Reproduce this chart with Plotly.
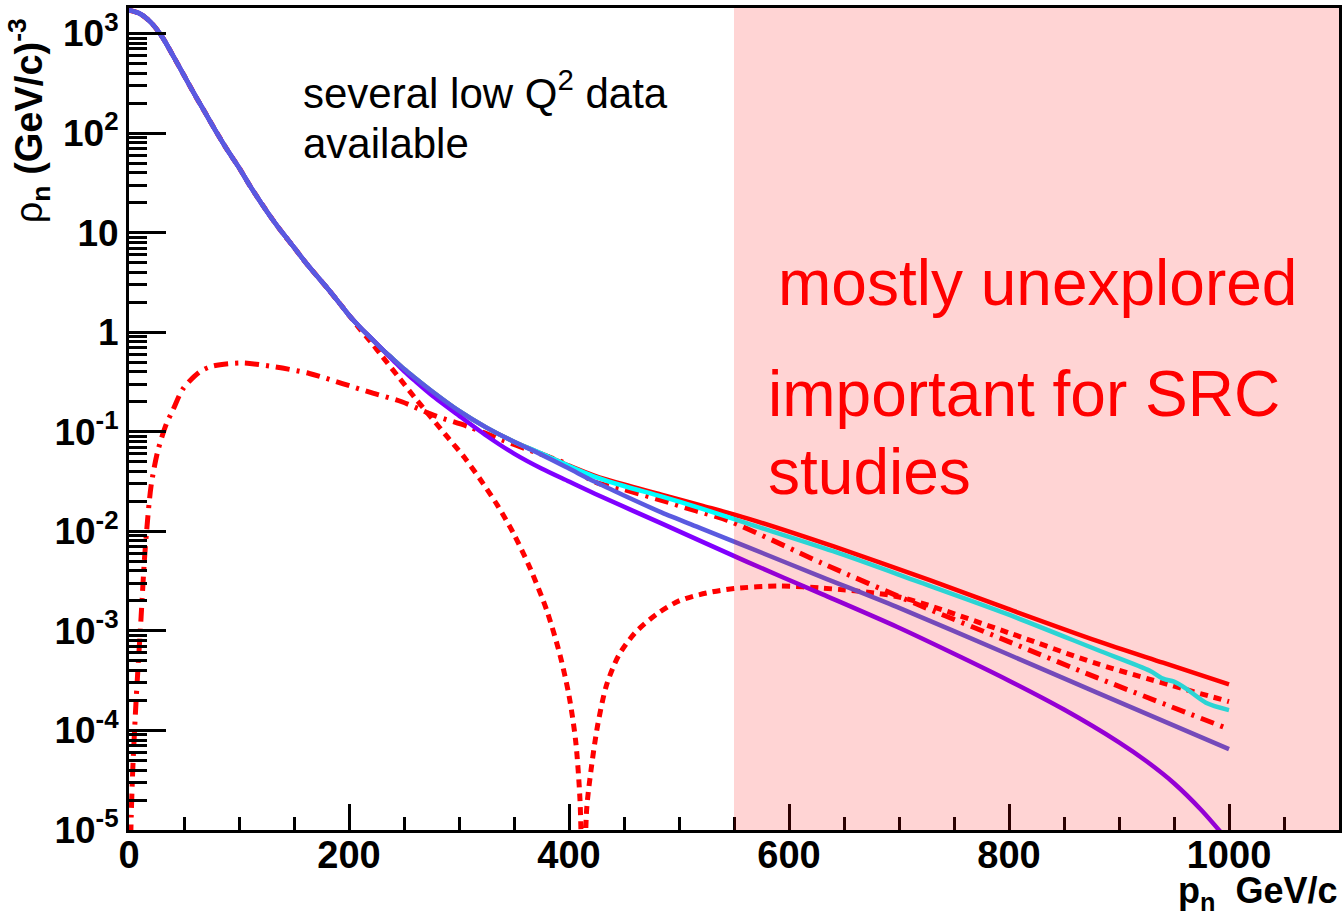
import plotly.graph_objects as go

# Neutron momentum distribution rho_n(p_n) for several NN-potential models.
# Low-momentum part shared by all models.
p_low = [0, 10, 20, 30, 40, 50, 60, 70, 80, 90, 100, 110, 120, 130, 140, 150, 160, 170,
         180, 190, 200, 210, 220, 230, 240, 250]
rho_low = [1710, 1580, 1290, 930, 600, 380, 240, 155, 100, 66, 45, 29.5, 20, 13.8, 9.8,
           7.1, 5.1, 3.76, 2.79, 2.04, 1.48, 1.12, 0.87, 0.676, 0.537, 0.427]

# Region where total, cyan and blue models still coincide
p_mid = [260, 275, 300, 325, 350]
rho_mid = [0.347, 0.257, 0.162, 0.11, 0.0794]

# Total distribution (red solid)
p_total = [375, 400, 423, 450, 484, 520, 562, 640, 728, 798, 880, 940, 1000]
rho_total = [0.0603, 0.0457, 0.0363, 0.0295, 0.0234, 0.0182, 0.0135, 7.08e-3, 3.24e-3,
             1.68e-3, 7.94e-4, 4.79e-4, 2.9e-4]

# Cyan model
p_cyan = [375, 400, 423, 450, 484, 520, 562, 640, 716, 798, 880, 928, 940, 950, 961,
          979, 1000]
rho_cyan = [0.0603, 0.0452, 0.0355, 0.0285, 0.0224, 0.017, 0.012, 6.31e-3, 3.16e-3,
            1.48e-3, 6.46e-4, 3.98e-4, 3.31e-4, 3.09e-4, 2.63e-4, 1.9e-4, 1.6e-4]

# Blue model
p_blue = [375, 400, 423, 450, 484, 520, 562, 630, 698, 798, 880, 1000]
rho_blue = [0.0589, 0.0427, 0.0316, 0.0229, 0.0155, 0.0107, 6.97e-3, 3.47e-3, 1.74e-3,
            5.89e-4, 2.4e-4, 6.5e-5]

# Violet model (leaves the common curve near 240)
p_violet = [240, 250, 260, 275, 300, 325, 350, 375, 400, 423, 484, 562, 630, 698, 750,
            800, 850, 900, 925, 950, 975, 1000]
rho_violet = [0.525, 0.407, 0.324, 0.234, 0.145, 0.0912, 0.0603, 0.0427, 0.0316, 0.024,
              0.012, 4.93e-3, 2.34e-3, 1.1e-3, 5.89e-4, 3.16e-4, 1.62e-4, 7.59e-5,
              4.9e-5, 2.95e-5, 1.58e-5, 7.6e-6]

# S-wave component (red dotted), with its node near 413
p_swave = [200, 210, 220, 230, 245, 260, 275, 290, 305, 320, 335, 350, 365, 380, 392,
           400, 406, 410, 413, 416, 420, 426, 434, 445, 460, 480, 500, 525, 550, 590,
           630, 700, 800, 880, 1000]
rho_swave = [1.48, 1.07, 0.794, 0.575, 0.355, 0.219, 0.138, 0.0871, 0.055, 0.0324,
             0.0182, 9.33e-3, 4.17e-3, 1.58e-3, 5.62e-4, 2.24e-4, 7.94e-5, 2.0e-5, 1e-6,
             1.58e-5, 3.98e-5, 1.12e-4, 2.82e-4, 5.62e-4, 9.55e-4, 1.48e-3, 2.0e-3,
             2.4e-3, 2.66e-3, 2.82e-3, 2.69e-3, 2.19e-3, 9.55e-4, 4.68e-4, 1.95e-4]

# D-wave component (red dash-dot)
p_dwave = [1, 2, 3.5, 6.5, 11, 14, 16, 20, 26, 34, 40, 49, 64, 76, 103, 133, 164, 194,
           218, 248, 278, 309, 339, 365, 393, 423, 450, 484, 514, 544, 630, 716, 798, 880,
           1000]
rho_dwave = [4e-6, 1.35e-5, 4.27e-5, 2.04e-4, 1.38e-3, 5.13e-3, 0.01, 0.0282, 0.063, 0.12,
             0.166, 0.269, 0.398, 0.457, 0.49, 0.447, 0.385, 0.305, 0.251, 0.2, 0.145,
             0.112, 0.083, 0.0646, 0.0501, 0.0315, 0.0262, 0.0205, 0.0162, 0.0129,
             4.79e-3, 1.86e-3, 7.94e-4, 3.39e-4, 1.03e-4]

# Axis ticks
x_ticks = [0, 200, 400, 600, 800, 1000]
y_ticks = [1e-5, 1e-4, 1e-3, 1e-2, 1e-1, 1, 10, 1e2, 1e3]
y_ticktext = ["10<sup>-5</sup>", "10<sup>-4</sup>", "10<sup>-3</sup>", "10<sup>-2</sup>",
              "10<sup>-1</sup>", "1", "10", "10<sup>2</sup>", "10<sup>3</sup>"]

# Momentum range still mostly unexplored
unexplored_from = 550
x_max = 1100

FONT = "Liberation Sans, Arial, sans-serif"

fig = go.Figure()


def add_curve(px, py, color, width, dash="solid"):
    fig.add_trace(go.Scatter(
        x=px, y=py, mode="lines",
        line=dict(color=color, width=width, dash=dash, shape="spline", smoothing=0.8),
        hoverinfo="skip", showlegend=False,
    ))


n_violet = p_low.index(230) + 1
n_swave = p_low.index(190) + 1

add_curve(p_low + p_mid + p_total, rho_low + rho_mid + rho_total, "#ff0000", 4.5)
add_curve(p_low[:n_swave] + p_swave, rho_low[:n_swave] + rho_swave, "#ff0000", 5, "8px,6px")
add_curve(p_dwave, rho_dwave, "#ff0000", 5, "14px,7px,3px,7px")
add_curve(p_low + p_mid + p_cyan, rho_low + rho_mid + rho_cyan, "#00ffff", 4.5)
add_curve(p_low[:n_violet] + p_violet, rho_low[:n_violet] + rho_violet, "#8000ff", 4.5)
add_curve(p_low + p_mid + p_blue, rho_low + rho_mid + rho_blue, "#5a5ae0", 4.5)

fig.add_shape(type="rect", xref="x", yref="paper", x0=unexplored_from, x1=x_max,
              y0=0, y1=1, fillcolor="rgba(255,0,0,0.17)", line_width=0, layer="above")

fig.update_xaxes(
    range=[0, x_max], tickmode="array", tickvals=x_ticks,
    ticks="inside", ticklen=26, tickwidth=3, tickcolor="black",
    minor=dict(dtick=50, ticks="inside", ticklen=13, tickwidth=3, tickcolor="black"),
    showline=True, linecolor="black", linewidth=3, mirror=True,
    showgrid=False, zeroline=False, ticklabelstandoff=-11,
    tickfont=dict(family=FONT, size=38, color="black", weight="bold"),
)
fig.update_yaxes(
    type="log", range=[-5, 3.256], tickmode="array", tickvals=y_ticks, ticktext=y_ticktext,
    ticks="inside", ticklen=37, tickwidth=3, tickcolor="black",
    minor=dict(dtick="D1", ticks="inside", ticklen=18, tickwidth=3, tickcolor="black"),
    showline=True, linecolor="black", linewidth=3, mirror=True,
    showgrid=False, zeroline=False, ticklabelstandoff=0,
    tickfont=dict(family=FONT, size=37, color="black", weight="bold"),
)

fig.add_annotation(
    text="ρ<sub><b>n</b></sub><b> (GeV/c)<sup>-3</sup></b>", textangle=-90,
    xref="paper", yref="paper", x=-0.083, y=0.99, xanchor="center", yanchor="top",
    showarrow=False, font=dict(family=FONT, size=38, color="black"),
)
fig.add_annotation(
    text="<b>p<sub>n</sub>  GeV/c</b>",
    xref="paper", yref="paper", x=1.0, y=-0.046, xanchor="right", yanchor="top",
    showarrow=False, font=dict(family=FONT, size=36, color="black"),
)

fig.add_annotation(
    text="several low Q<sup>2</sup> data", xref="x", yref="paper", x=156, y=0.9,
    xanchor="left", yanchor="middle", showarrow=False,
    font=dict(family=FONT, size=42, color="black"),
)
fig.add_annotation(
    text="available", xref="x", yref="paper", x=156, y=0.835,
    xanchor="left", yanchor="middle", showarrow=False,
    font=dict(family=FONT, size=42, color="black"),
)
for txt, yy, xx in [("mostly unexplored", 0.665, 588), ("important for SRC", 0.531, 579),
                    ("studies", 0.436, 579)]:
    fig.add_annotation(
        text=txt, xref="x", yref="paper", x=xx, y=yy, xanchor="left", yanchor="middle",
        showarrow=False, font=dict(family=FONT, size=64, color="#ff0000"),
    )

fig.update_layout(
    width=1344, height=921,
    margin=dict(l=129, r=2, t=8, b=91),
    paper_bgcolor="white", plot_bgcolor="white",
)

fig.write_html("out.html")
